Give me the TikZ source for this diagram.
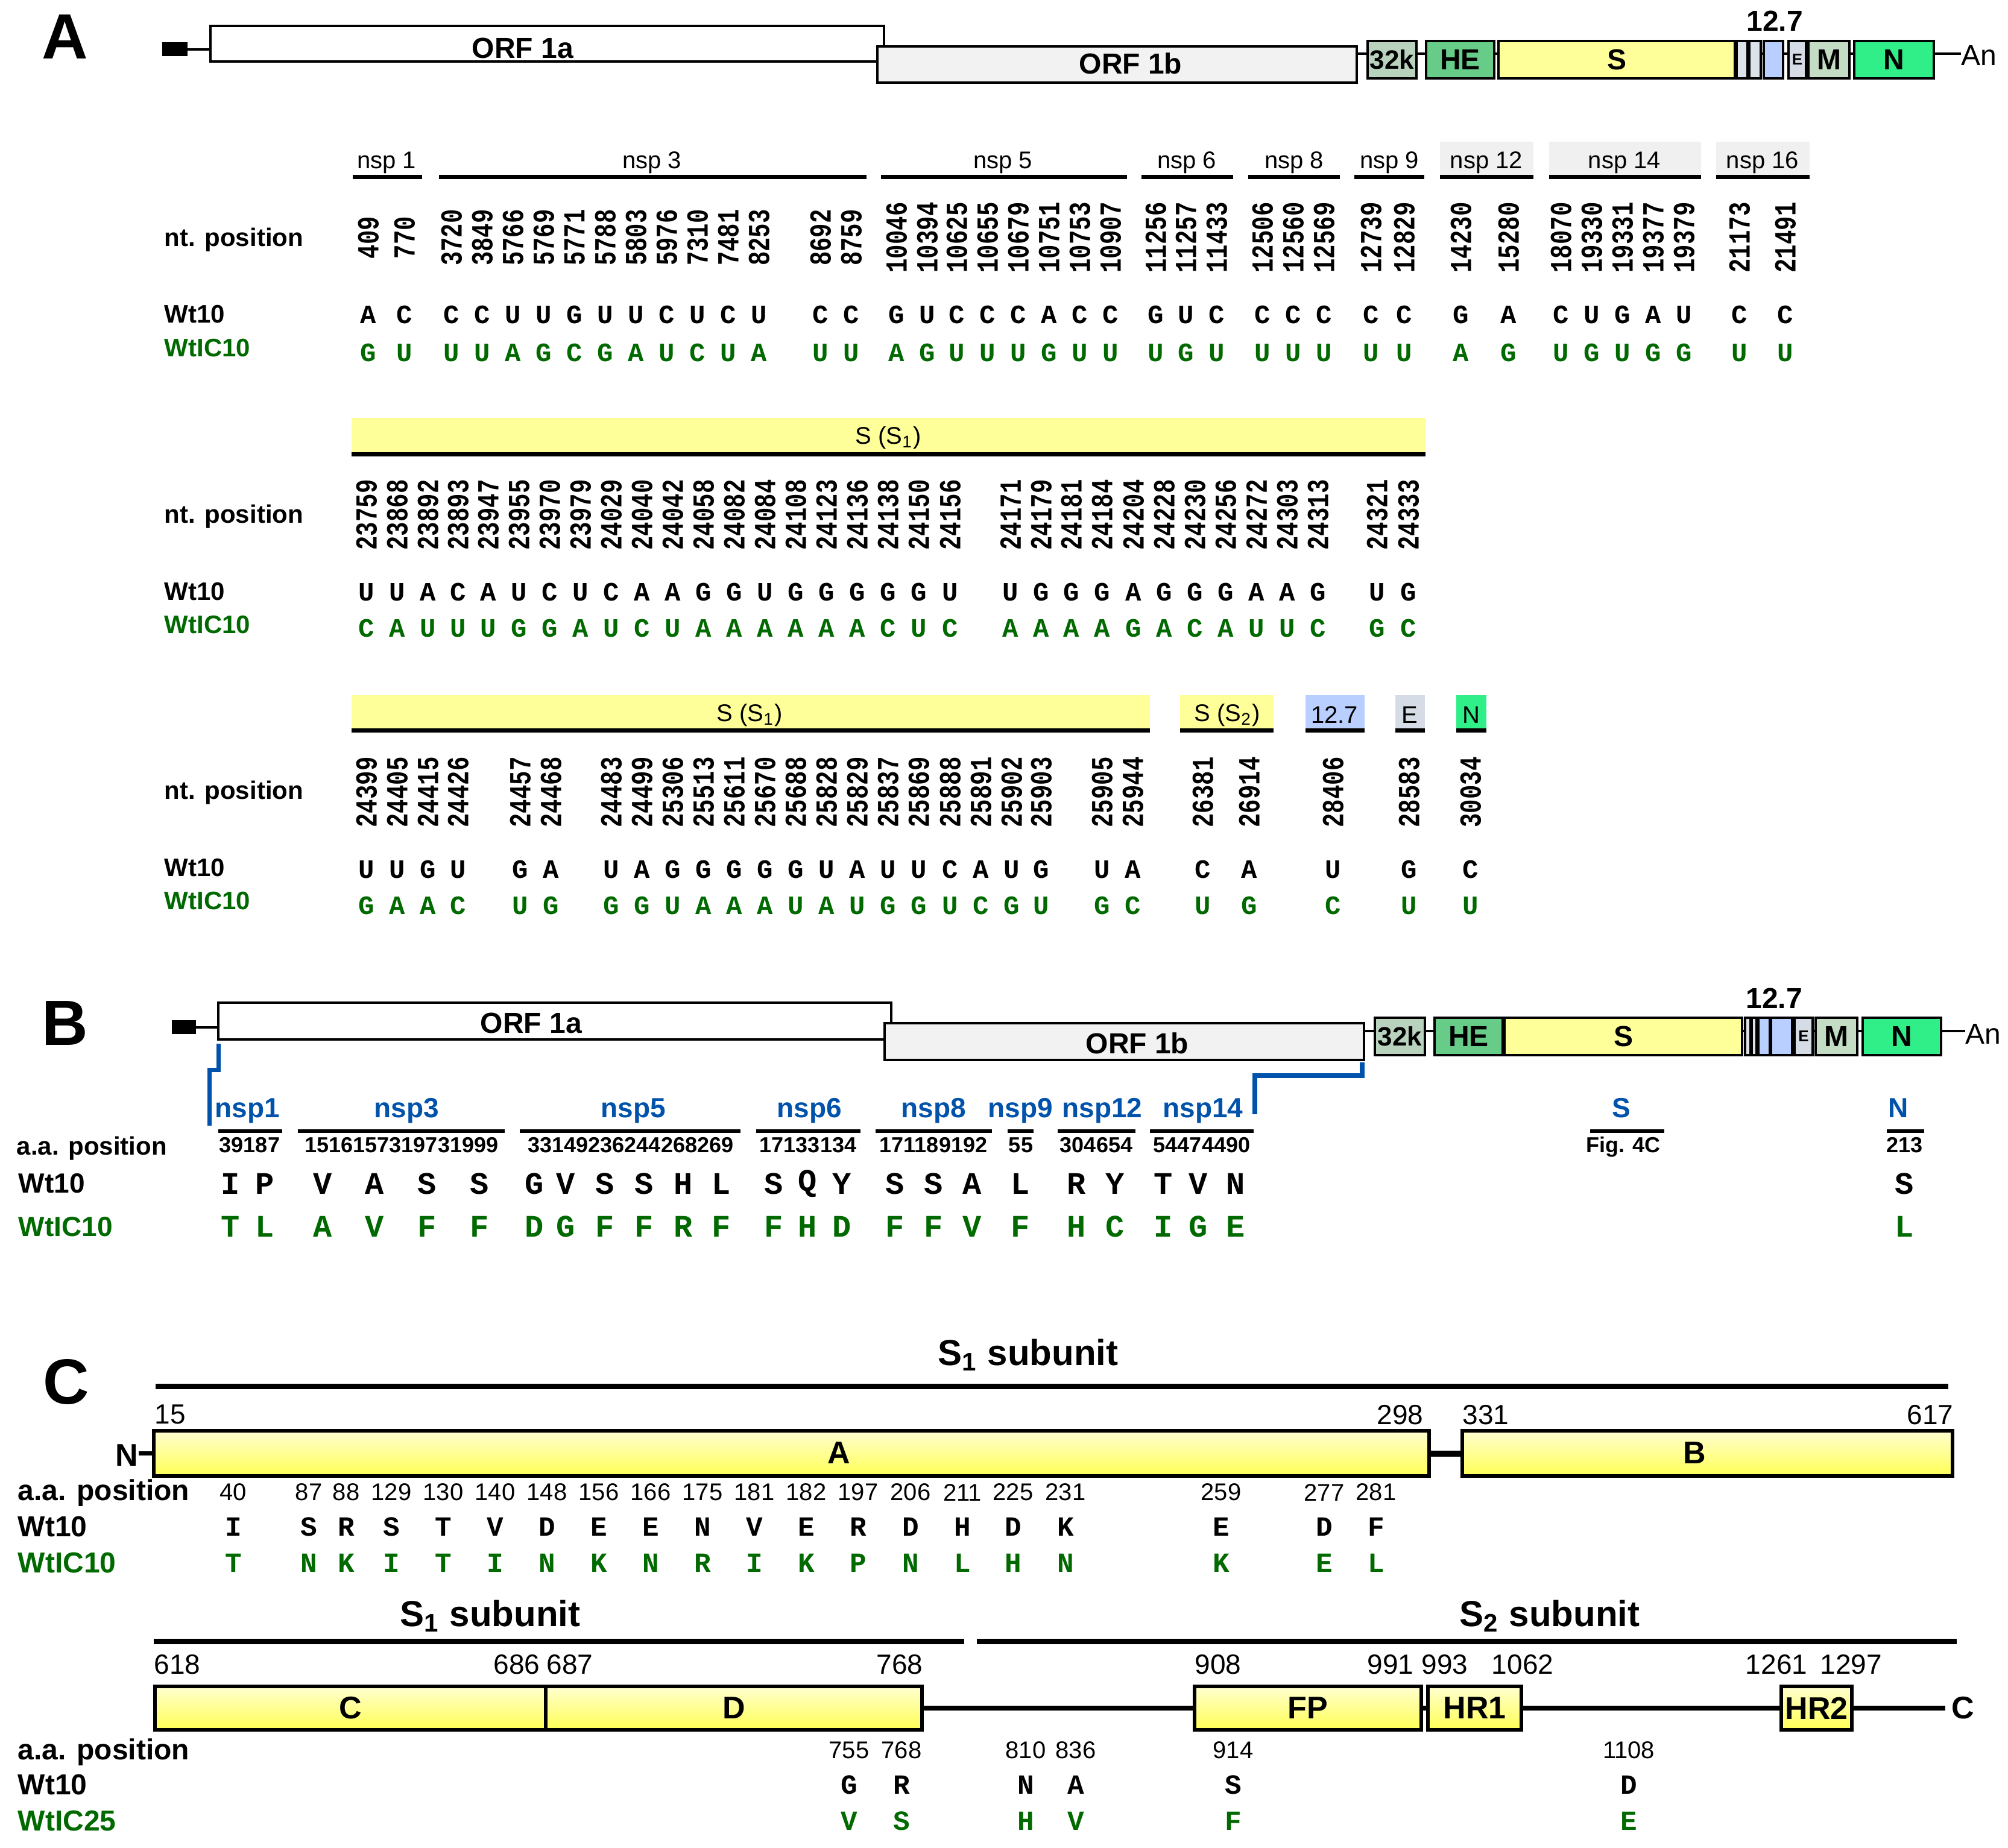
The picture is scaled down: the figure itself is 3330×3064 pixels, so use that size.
\documentclass[tikz,border=0pt]{standalone}
\usepackage{fontspec}
\usepackage{graphicx}
\setmainfont{Liberation Sans}
\newfontfamily\monof{Liberation Mono}
\definecolor{gr}{RGB}{0,105,0}
\definecolor{bl}{RGB}{0,82,170}
\definecolor{hgrey}{RGB}{240,240,240}
\definecolor{yel}{RGB}{255,255,153}
\definecolor{c32}{RGB}{185,210,190}
\definecolor{che}{RGB}{102,204,136}
\definecolor{csm}{RGB}{220,226,234}
\definecolor{cbl}{RGB}{184,207,255}
\definecolor{ce}{RGB}{214,220,230}
\definecolor{cm}{RGB}{196,220,196}
\definecolor{cn}{RGB}{48,238,136}
\definecolor{orfb}{RGB}{242,242,242}
\definecolor{yl1}{RGB}{255,255,208}
\definecolor{yl2}{RGB}{255,255,85}
\begin{document}
\begin{tikzpicture}[x=0.25pt,y=-0.25pt,
  panel/.style={inner sep=0pt, font=\bfseries\fontsize{26.5}{28}\selectfont},
  gbox/.style 2 args={draw, line width=1.1pt, minimum width=#1*0.25pt, minimum height=#2*0.25pt, inner sep=0pt, outer sep=0pt, font=\bfseries\fontsize{12}{12}\selectfont},
  spine/.style={line width=1pt},
  hdr/.style={inner sep=0pt, font=\fontsize{10}{12}\selectfont},
  hbar/.style={line width=1.75pt},
  rowlab/.style={anchor=base west, inner sep=0pt, font=\bfseries\fontsize{10.5}{12}\selectfont},
  rowlabB/.style={anchor=base west, inner sep=0pt, font=\bfseries\fontsize{11.5}{12}\selectfont},
  rowlabC/.style={anchor=base west, inner sep=0pt, font=\bfseries\fontsize{12}{12}\selectfont},
  numr/.style={rotate=90, inner sep=0pt, font=\monof\bfseries\fontsize{9.75}{10}\selectfont},
  ntA/.style={inner sep=0pt, font=\monof\bfseries\fontsize{11}{11}\selectfont},
  icA/.style={ntA, text=gr},
  aaB/.style={inner sep=0pt, font=\monof\bfseries\fontsize{13}{13}\selectfont},
  icB/.style={aaB, text=gr},
  nspB/.style={anchor=base, inner sep=0pt, text=bl, font=\bfseries\fontsize{11.5}{12}\selectfont},
  posB/.style={inner sep=0pt, font=\bfseries\fontsize{9}{9}\selectfont},
  aaC/.style={inner sep=0pt, font=\monof\bfseries\fontsize{11.5}{12}\selectfont},
  icC/.style={aaC, text=gr},
  posC/.style={inner sep=0pt, font=\fontsize{10}{10}\selectfont},
  tlab/.style={inner sep=0pt, font=\fontsize{11.5}{12}\selectfont},
  dombox/.style 2 args={draw, line width=1.5pt, top color=yl1, bottom color=yl2, minimum width=#1*0.25pt, minimum height=#2*0.25pt, inner sep=0pt, outer sep=0pt, font=\bfseries\fontsize{13}{13}\selectfont},
  subt/.style={inner sep=0pt, font=\bfseries\fontsize{15}{15}\selectfont}
]
\fill[white] (0,0) rectangle (3330,3064);
\useasboundingbox (0,0) rectangle (3330,3064);

% ================= PANEL A =================
\node[panel] (labA) at (108,61) {A};
\node[gbox={38}{19}, fill=black] (sqA) at (290,81.5) {};
\node[gbox={1117}{59}, fill=white] (orfaA) at (907.5,72.5) {};
\node[gbox={795}{60}, fill=orfb] (orfbA) at (1852.5,107) {};
\node[inner sep=0pt, font=\bfseries\fontsize{12}{12}\selectfont] (torfaA) at (867,80) {ORF 1a};
\node[inner sep=0pt, font=\bfseries\fontsize{12}{12}\selectfont] (torfbA) at (1875,105) {ORF 1b};
\draw[spine] (sqA.east) -- (orfaA.west |- sqA);
\node[gbox={81}{62}, fill=c32] (k32A) at (2308.5,99) {\fontsize{11}{11}\selectfont 32k};
\node[gbox={113}{62}, fill=che] (heA) at (2421.5,99) {HE};
\node[gbox={392}{62}, fill=yel] (sA) at (2681,99) {S};
\node[gbox={18}{62}, fill=csm] (s1A) at (2889,99) {};
\node[gbox={19}{62}, fill=csm] (s2A) at (2910.5,99) {};
\node[gbox={32}{62}, fill=cbl] (blA) at (2941,99) {};
\node[gbox={29}{62}, fill=ce] (eA) at (2980.5,99) {\fontsize{6.5}{7}\selectfont E};
\node[gbox={68}{62}, fill=cm] (mA) at (3033,99) {M};
\node[gbox={132}{62}, fill=cn] (nA) at (3141,99) {N};
\node[anchor=west, inner sep=0pt, font=\fontsize{12}{12}\selectfont] (anA) at (3252,92) {An};
\node[inner sep=0pt, font=\bfseries\fontsize{12}{12}\selectfont] (t127A) at (2943,35) {12.7};
\coordinate (spA) at (0,89);
\foreach \u/\v in {orfbA/k32A, k32A/heA, heA/sA, sA/s1A, s1A/s2A, s2A/blA, blA/eA, eA/mA, mA/nA}
  \draw[spine] (\u.east |- spA) -- (\v.west |- spA);
\draw[spine] (nA.east |- spA) -- (anA.west |- spA);

% nsp headers
\fill[hgrey] (2388,235) rectangle (2543,290);
\fill[hgrey] (2569,235) rectangle (2821,290);
\fill[hgrey] (2846,235) rectangle (3001,290);
\foreach \a/\b/\t/\c [count=\i] in {585/700/nsp 1/641, 728/1437/nsp 3/1081, 1461/1869/nsp 5/1663, 1893/2045/nsp 6/1968, 2070/2222/nsp 8/2146, 2246/2362/nsp 9/2304, 2388/2543/nsp 12/2465, 2569/2821/nsp 14/2694, 2846/3001/nsp 16/2923}{
  \draw[hbar] (\a,293.5) -- (\b,293.5);
  \node[hdr] (hA\i) at (\c,270) {\t};
}
\node[rowlab] (ntA1) at (272,408) {nt. position};
\node[rowlab] (wtA1) at (272,535) {Wt10};
\node[rowlab, text=gr] (icA1) at (272,591) {WtIC10};
\foreach \x/\nn/\w/\c [count=\i] in {611/409/A/G, 671/770/C/U, 749/3720/C/U, 800/3849/C/U, 851/5766/U/A, 902/5769/U/G, 953/5771/G/C, 1004/5788/U/G, 1055/5803/U/A, 1106/5976/C/U, 1157/7310/U/C, 1208/7481/C/U, 1259/8253/U/A, 1361/8692/C/U, 1412/8759/C/U, 1487/10046/G/A, 1538/10394/U/G, 1587/10625/C/U, 1638/10655/C/U, 1689/10679/C/U, 1740/10751/A/G, 1791/10753/C/U, 1842/10907/C/U, 1917/11256/G/U, 1967/11257/U/G, 2018/11433/C/U, 2094/12506/C/U, 2145/12560/C/U, 2196/12569/C/U, 2274/12739/C/U, 2329/12829/C/U, 2423/14230/G/A, 2502/15280/A/G, 2589/18070/C/U, 2640/19330/U/G, 2691/19331/G/U, 2742/19377/A/G, 2793/19379/U/G, 2885/21173/C/U, 2961/21491/C/U}{
  \node[numr] (n1x\i) at (\x,394) {\scalebox{1}[1.3]{\nn}};
  \node[ntA] (w1x\i) at (\x,522) {\w};
  \node[icA] (c1x\i) at (\x,585) {\c};
}

% block 2
\fill[yel] (583,693) rectangle (2364,750);
\draw[hbar] (583,753.5) -- (2364,753.5);
\node[hdr] (hS1a) at (1473,726) {S (S\textsubscript{1})};
\node[rowlab] (ntA2) at (272,867) {nt. position};
\node[rowlab] (wtA2) at (272,995) {Wt10};
\node[rowlab, text=gr] (icA2) at (272,1050) {WtIC10};
\foreach \x/\nn/\w/\c [count=\i] in {608/23759/U/C, 659/23868/U/A, 710/23892/A/U, 760/23893/C/U, 810/23947/A/U, 861/23955/U/G, 912/23970/C/G, 963/23979/U/A, 1014/24029/C/U, 1065/24040/A/C, 1116/24042/A/U, 1167/24058/G/A, 1218/24082/G/A, 1269/24084/U/A, 1320/24108/G/A, 1371/24123/G/A, 1422/24136/G/A, 1473/24138/G/C, 1524/24150/G/U, 1576/24156/U/C, 1676/24171/U/A, 1727/24179/G/A, 1777/24181/G/A, 1828/24184/G/A, 1880/24204/A/G, 1931/24228/G/A, 1982/24230/G/C, 2033/24256/G/A, 2084/24272/A/U, 2135/24303/A/U, 2186/24313/G/C, 2284/24321/U/G, 2336/24333/G/C}{
  \node[numr] (n2x\i) at (\x,854) {\scalebox{1}[1.3]{\nn}};
  \node[ntA] (w2x\i) at (\x,982) {\w};
  \node[icA] (c2x\i) at (\x,1042) {\c};
}

% block 3
\fill[yel] (583,1153) rectangle (1907,1208);
\draw[hbar] (583,1211.5) -- (1907,1211.5);
\node[hdr] (hS1b) at (1243,1186) {S (S\textsubscript{1})};
\fill[yel] (1957,1153) rectangle (2112,1208);
\draw[hbar] (1957,1211.5) -- (2112,1211.5);
\node[hdr] (hS2) at (2035,1186) {S (S\textsubscript{2})};
\fill[cbl] (2165,1153) rectangle (2263,1208);
\draw[hbar] (2165,1211.5) -- (2263,1211.5);
\node[hdr] (h127) at (2213,1186) {12.7};
\fill[ce] (2314,1153) rectangle (2363,1208);
\draw[hbar] (2314,1211.5) -- (2363,1211.5);
\node[hdr] (hE) at (2338,1186) {E};
\fill[cn] (2415,1153) rectangle (2465,1208);
\draw[hbar] (2415,1211.5) -- (2465,1211.5);
\node[hdr] (hN) at (2440,1186) {N};
\node[rowlab] (ntA3) at (272,1325) {nt. position};
\node[rowlab] (wtA3) at (272,1453) {Wt10};
\node[rowlab, text=gr] (icA3) at (272,1508) {WtIC10};
\foreach \x/\nn/\w/\c [count=\i] in {608/24399/U/G, 659/24405/U/A, 710/24415/G/A, 760/24426/U/C, 863/24457/G/U, 914/24468/A/G, 1014/24483/U/G, 1065/24499/A/G, 1116/25306/G/U, 1167/25513/G/A, 1218/25611/G/A, 1269/25670/G/A, 1320/25688/G/U, 1371/25828/U/A, 1422/25829/A/U, 1473/25837/U/G, 1524/25869/U/G, 1576/25888/C/U, 1627/25891/A/C, 1678/25902/U/G, 1727/25903/G/U, 1828/25905/U/G, 1879/25944/A/C, 1995/26381/C/U, 2072/26914/A/G, 2211/28406/U/C, 2337/28583/G/U, 2439/30034/C/U}{
  \node[numr] (n3x\i) at (\x,1314) {\scalebox{1}[1.3]{\nn}};
  \node[ntA] (w3x\i) at (\x,1442) {\w};
  \node[icA] (c3x\i) at (\x,1502) {\c};
}

% ================= PANEL B =================
\node[panel] (labB) at (108,1697) {B};
\node[gbox={36}{19}, fill=black] (sqB) at (305,1703.5) {};
\node[gbox={1116}{61}, fill=white] (orfaB) at (920,1693.5) {};
\node[gbox={795}{61}, fill=orfb] (orfbB) at (1864.5,1727.5) {};
\node[inner sep=0pt, font=\bfseries\fontsize{12}{12}\selectfont] (torfaB) at (881,1697) {ORF 1a};
\node[inner sep=0pt, font=\bfseries\fontsize{12}{12}\selectfont] (torfbB) at (1886,1730) {ORF 1b};
\draw[spine] (sqB.east) -- (orfaB.west |- sqB);
\node[gbox={83}{62}, fill=c32] (k32B) at (2321.5,1719) {\fontsize{11}{11}\selectfont 32k};
\node[gbox={113}{62}, fill=che] (heB) at (2435.5,1719) {HE};
\node[gbox={394}{62}, fill=yel] (sB) at (2692,1719) {S};
\node[gbox={9}{62}, fill=csm] (s1B) at (2898.5,1719) {};
\node[gbox={8}{62}, fill=csm] (s2B) at (2909,1719) {};
\node[gbox={56}{62}, fill=cbl] (blB) at (2944,1719) {};
\draw[line width=1.5pt] (2936,1688) -- (2936,1750);
\node[gbox={30}{62}, fill=ce] (eB) at (2991,1719) {\fontsize{6.5}{7}\selectfont E};
\node[gbox={69}{62}, fill=cm] (mB) at (3045.5,1719) {M};
\node[gbox={130}{62}, fill=cn] (nB) at (3154,1719) {N};
\node[anchor=west, inner sep=0pt, font=\fontsize{12}{12}\selectfont] (anB) at (3259,1715) {An};
\node[inner sep=0pt, font=\bfseries\fontsize{12}{12}\selectfont] (t127B) at (2942,1656) {12.7};
\coordinate (spB) at (0,1710);
\foreach \u/\v in {orfbB/k32B, k32B/heB, heB/sB, sB/s1B, s1B/s2B, s2B/blB, blB/eB, eB/mB, mB/nB}
  \draw[spine] (\u.east |- spB) -- (\v.west |- spB);
\draw[spine] (nB.east |- spB) -- (anB.west |- spB);

% blue brackets
\coordinate (brL1) at (362,1731);
\coordinate (brL2) at (347,1867);
\draw[bl, line width=1.75pt] (brL1) -- (362,1774) -- (347,1774) -- (brL2);
\coordinate (brR1) at (2259,1762);
\coordinate (brR2) at (2081,1848);
\draw[bl, line width=2pt] (brR1) -- (2259,1784) -- (2081,1784) -- (brR2);

\foreach \x/\t [count=\i] in {410/nsp1, 674/nsp3, 1050/nsp5, 1342/nsp6, 1548/nsp8, 1692/nsp9, 1828/nsp12, 1995/nsp14, 2689/S, 3148/N}
  \node[nspB] (nspB\i) at (\x,1853) {\t};
\foreach \a/\b in {362/468, 494/837, 862/1228, 1254/1427, 1452/1645, 1671/1714, 1754/1883, 1907/2079, 2637/2760, 3129/3191}
  \draw[line width=1.5pt] (\a,1876) -- (\b,1876);
\foreach \x/\t [count=\i] in {414/39187, 666/1516157319731999, 1046/33149236244268269, 1340/17133134, 1548/171189192, 1693/55, 1818/304654, 1993/54474490, 2692/Fig. 4C, 3158/213}
  \node[posB, anchor=base] (posB\i) at (\x,1911) {\t};
\node[rowlab] (aaB0) at (27,1915) {a.a. position};
\node[rowlabB] (wtB0) at (30,1978) {Wt10};
\node[rowlabB, text=gr] (icB0) at (30,2050) {WtIC10};
\foreach \x/\w/\c [count=\i] in {382/I/T, 439/P/L, 535/V/A, 621/A/V, 708/S/F, 795/S/F, 886/G/D, 938/V/G, 1003/S/F, 1068/S/F, 1133/H/R, 1196/L/F, 1283/S/F, 1339/Q/H, 1396/Y/D, 1484/S/F, 1548/S/F, 1612/A/V, 1692/L/F, 1785/R/H, 1849/Y/C, 1929/T/I, 1987/V/G, 2049/N/E, 3158/S/L}{
  \node[aaB] (wB\i) at (\x,1963) {\w};
  \node[icB] (cB\i) at (\x,2034) {\c};
}

% ================= PANEL C =================
\node[panel] (labC) at (110,2292) {C};
\node[subt] (s1top) at (1705,2247) {S\textsubscript{1} subunit};
\draw[line width=2.25pt] (258,2299) -- (3231,2299);
\node[tlab, anchor=west] (t15) at (256,2346) {15};
\node[tlab, anchor=east] (t298) at (2361,2347) {298};
\node[tlab, anchor=west] (t331) at (2425,2347) {331};
\node[tlab, anchor=east] (t617) at (3240,2347) {617};
\node[dombox={2115}{75}] (domA) at (1312.5,2410.5) {};
\node[dombox={813}{75}] (domB) at (2831.5,2410.5) {};
\node[inner sep=0pt, font=\bfseries\fontsize{13}{13}\selectfont] (tdA) at (1391,2410) {A};
\node[inner sep=0pt, font=\bfseries\fontsize{13}{13}\selectfont] (tdB) at (2810,2410) {B};
\node[inner sep=0pt, font=\bfseries\fontsize{13}{13}\selectfont] (ntermC) at (210,2414) {N};
\draw[line width=1.75pt] (ntermC.east |- domA) -- (domA.west);
\draw[line width=2.5pt] (domA.east) -- (domB.west);
\node[rowlabC] (aaC0) at (29,2488) {a.a. position};
\node[rowlabC] (wtC0) at (29,2548) {Wt10};
\node[rowlabC, text=gr] (icC0) at (29,2608) {WtIC10};
\foreach \x/\nn/\w/\c [count=\i] in {387/40/I/T, 512/87/S/N, 574/88/R/K, 649/129/S/I, 735/130/T/T, 821/140/V/I, 907/148/D/N, 993/156/E/K, 1079/166/E/N, 1165/175/N/R, 1251/181/V/I, 1337/182/E/K, 1423/197/R/P, 1510/206/D/N, 1596/211/H/L, 1680/225/D/H, 1767/231/K/N, 2025/259/E/K, 2196/277/D/E, 2282/281/F/L}{
  \node[posC] (pC\i) at (\x,2475) {\nn};
  \node[aaC] (wC\i) at (\x,2532) {\w};
  \node[icC] (cC\i) at (\x,2592) {\c};
}

% lower C
\node[subt] (s1low) at (813,2680) {S\textsubscript{1} subunit};
\draw[line width=2.25pt] (255,2722) -- (1599,2722);
\node[subt] (s2low) at (2570,2680) {S\textsubscript{2} subunit};
\draw[line width=2.25pt] (1620,2722) -- (3245,2722);
\node[tlab, anchor=west] (t618) at (255,2761) {618};
\node[tlab, anchor=east] (t686) at (896,2761) {686};
\node[tlab, anchor=west] (t687) at (906,2761) {687};
\node[tlab, anchor=east] (t768) at (1531,2761) {768};
\node[tlab, anchor=west] (t908) at (1981,2761) {908};
\node[tlab, anchor=east] (t991) at (2345,2761) {991};
\node[tlab, anchor=west] (t993) at (2357,2761) {993};
\node[tlab] (t1062) at (2525,2761) {1062};
\node[tlab, anchor=east] (t1261) at (2998,2761) {1261};
\node[tlab, anchor=west] (t1297) at (3018,2761) {1297};
\coordinate (cend) at (3226,2833);
\node[inner sep=0pt, font=\bfseries\fontsize{13}{13}\selectfont, anchor=west] (ctermC) at (3236,2833) {C};
\draw[line width=2pt] (1529,2833) -- (cend);
\node[dombox={648}{72}] (domC) at (581,2833) {C};
\node[dombox={624}{72}] (domD) at (1217,2833) {D};
\node[dombox={376}{72}] (domFP) at (2169,2833) {FP};
\node[dombox={155}{72}] (domHR1) at (2445.5,2833) {HR1};
\node[dombox={117}{72}] (domHR2) at (3012.5,2833) {HR2};
\node[rowlabC] (aaC1) at (29,2918) {a.a. position};
\node[rowlabC] (wtC1) at (29,2976) {Wt10};
\node[rowlabC, text=gr] (icC1) at (29,3036) {WtIC25};
\foreach \x/\nn/\w/\c [count=\i] in {1408/755/G/V, 1495/768/R/S, 1701/810/N/H, 1784/836/A/V, 2045/914/S/F, 2701/1108/D/E}{
  \node[posC] (pL\i) at (\x,2903) {\nn};
  \node[aaC] (wL\i) at (\x,2960) {\w};
  \node[icC] (cL\i) at (\x,3020) {\c};
}
\end{tikzpicture}
\end{document}
